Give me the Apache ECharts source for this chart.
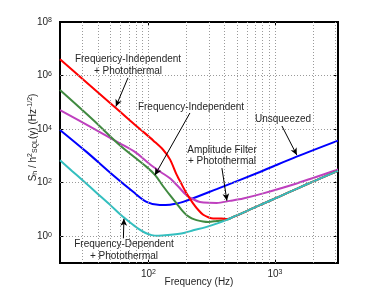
<!DOCTYPE html>
<html><head><meta charset="utf-8">
<script src="https://cdn.jsdelivr.net/npm/echarts@6/dist/echarts.min.js"></script>
<style>html,body{margin:0;padding:0;background:#fff}#c{width:374px;height:306px}</style>
</head><body><div id="c"></div>
<script>
// ---- data ----
const xRange = [20, 3150];
const yRange = [0.1, 1e8];
const xTickVals = [100, 1000];
const yTickVals = [1, 100, 1e4, 1e6, 1e8];
const gridFreqs = [30,40,50,60,70,80,90,100,200,300,400,500,600,700,800,900,1000,2000,3000];
const gridVals = [1, 100, 1e4, 1e6];

const freqBlue = [20, 32.4, 52.6, 75.7, 96.6, 123, 148, 188, 346, 760, 1483, 3150];
const valBlue  = [9333, 1413, 190.5, 45.7, 19.1, 14.5, 15.1, 19.1, 57.5, 251, 933, 3715];

const freqMag = [20, 36.6, 59.4, 80, 102.6, 125, 148, 172, 200, 230, 255, 300, 346, 440, 561, 807, 1483, 3150];
const valMag  = [51300, 10700, 2951, 1300, 490, 250, 145, 72, 33.9, 23, 19.1, 17.6, 17.4, 20.9, 25.7, 39.8, 93.3, 309];

const freqGreen = [20, 36.6, 59.4, 96.6, 113, 131, 148, 167, 185, 200, 220, 240, 270, 297, 346, 420, 468, 600, 760, 1094, 1500, 2000, 3150];
const valGreen  = [288000, 21900, 2512, 389, 191, 72, 34, 16.6, 9.0, 6.2, 4.6, 4.0, 3.55, 3.4, 3.7, 4.17, 5.25, 8.71, 14.5, 30.9, 60.3, 110, 275];

const freqRed = [20, 30, 50, 70, 91, 110, 131, 148, 167, 185, 200, 226, 250, 271, 300, 325, 379, 420, 468, 600, 760, 1094, 1500, 2000, 3150];
const valRed  = [4.07e6, 7.59e5, 9.33e4, 2.29e4, 7943, 3631, 1660, 741, 200, 79.4, 39.8, 16.6, 9.12, 6.31, 5.01, 4.57, 4.57, 4.37, 5.25, 8.71, 14.5, 30.9, 60.3, 110, 275];

const freqCyan = [20, 25, 30, 40, 50, 61, 70, 83, 95, 106, 120, 143, 170, 194, 226, 280, 346, 420, 468, 600, 760, 1094, 1500, 2000, 3150];
const valCyan  = [692, 269, 126, 37.2, 14.5, 6.03, 3.55, 1.93, 1.32, 1.10, 1.05, 1.10, 1.20, 1.35, 1.66, 2.14, 2.95, 4.17, 5.25, 8.71, 14.5, 30.9, 60.3, 110, 275];

// annotation arrows: [fromFreq, fromVal, toFreq, toVal]
const arrows = [
  [68.9, 8.2e5, 55.3, 7.0e4],
  [212.8, 4.0e4, 112.5, 191],
  [1135, 1.31e4, 1489, 1072],
  [381, 349, 417, 21.2],
  [63.4, 0.834, 64, 4.49]
];

const zip = (a, b) => a.map((v, i) => [v, b[i]]);
const FONT = '"Liberation Sans", Arial, Helvetica, sans-serif';
const TXT = '#262626';

function logLabel(v) {
  const e = Math.round(Math.log10(v));
  return '10{sup|' + e + '}';
}
const supRich = {
  sup: { fontSize: 7, verticalAlign: 'top', lineHeight: 8, fontFamily: FONT, color: TXT, padding: [0, 0, 6, 0] }
};

function axisBase(ticks) {
  return {
    type: 'log', logBase: 10,
    axisLine: { show: true, onZero: false, lineStyle: { color: '#000', width: 2 } },
    axisTick: { show: true, inside: true, length: 4, customValues: ticks, lineStyle: { color: '#000', width: 1 } },
    splitLine: { show: false },
    minorTick: { show: false },
    nameMoveOverlap: false
  };
}

const lineSeries = (name, f, v, color) => ({
  name, type: 'line', data: zip(f, v), showSymbol: false, smooth: 0.3,
  lineStyle: { color, width: 2 }, itemStyle: { color }, z: 3, silent: true
});

const txtStyle = (text, lh) => ({ text, font: '10px ' + FONT, fill: TXT, align: 'center', verticalAlign: 'middle', lineHeight: lh || 12 });

const option = {
  animation: false,
  backgroundColor: '#fff',
  grid: { left: 60, right: 36, top: 22, bottom: 43, show: true, borderColor: '#000', borderWidth: 2, backgroundColor: 'transparent' },
  xAxis: [
    Object.assign(axisBase(xTickVals), {
      min: xRange[0], max: xRange[1], position: 'bottom',
      axisLabel: { formatter: logLabel, customValues: xTickVals, fontSize: 10, color: TXT, fontFamily: FONT, margin: 6, rich: supRich },
      name: 'Frequency (Hz)', nameLocation: 'middle', nameGap: 14,
      nameTextStyle: { fontSize: 10, color: TXT, fontFamily: FONT, verticalAlign: 'top' }
    }),
    Object.assign(axisBase(xTickVals), {
      min: xRange[0], max: xRange[1], position: 'top',
      axisLabel: { show: false }
    })
  ],
  yAxis: [
    Object.assign(axisBase(yTickVals), {
      min: yRange[0], max: yRange[1], position: 'left',
      axisLabel: { formatter: logLabel, customValues: yTickVals, fontSize: 10, color: TXT, fontFamily: FONT, margin: 8, rich: supRich },
      name: 'S{sub|h} / h{sup|2}{sub|SQL}(γ) (Hz{sup|-1/2})', nameLocation: 'middle', nameRotate: 90, nameGap: 21,
      nameTextStyle: {
        fontSize: 10, color: TXT, fontFamily: FONT, padding: [0, 0, 0, 10],
        rich: {
          sub: { fontSize: 7, verticalAlign: 'bottom', fontFamily: FONT, color: TXT, padding: [5, 0, 0, 0] },
          sup: { fontSize: 7, verticalAlign: 'top', fontFamily: FONT, color: TXT, padding: [0, 0, 5, 0] }
        }
      }
    }),
    Object.assign(axisBase(yTickVals), {
      min: yRange[0], max: yRange[1], position: 'right',
      axisLabel: { show: false }
    })
  ],
  series: [
    {
      name: 'grid', type: 'line', data: [], z: 1, silent: true,
      markLine: {
        silent: true, symbol: ['none', 'none'], animation: false,
        label: { show: false },
        lineStyle: { color: '#9a9a9a', width: 1, type: [1, 2] },
        data: gridFreqs.map(f => ({ xAxis: f })).concat(gridVals.map(v => ({ yAxis: v })))
      }
    },
    lineSeries('Unsqueezed', freqBlue, valBlue, '#0000ff'),
    lineSeries('Amplitude Filter + Photothermal', freqMag, valMag, '#bf40bf'),
    lineSeries('Frequency-Independent', freqGreen, valGreen, '#408a40'),
    lineSeries('Frequency-Independent + Photothermal', freqRed, valRed, '#ff0000'),
    lineSeries('Frequency-Dependent + Photothermal', freqCyan, valCyan, '#33bfbf'),
    {
      name: 'arrows', type: 'line', data: [], z: 5, silent: true,
      markLine: {
        silent: true, symbol: ['none', 'arrow'], symbolSize: [5, 7], animation: false,
        label: { show: false },
        lineStyle: { color: '#000', width: 1, type: 'solid' },
        data: arrows.map(a => [{ coord: [a[0], a[1]] }, { coord: [a[2], a[3]] }])
      }
    }
  ],
  graphic: [
    { type: 'text', x: 128, y: 65, style: txtStyle('Frequency-Independent\n+ Photothermal', 12), z: 10 },
    { type: 'text', x: 191, y: 107, style: txtStyle('Frequency-Independent'), z: 10 },
    { type: 'text', x: 283, y: 119, style: txtStyle('Unsqueezed'), z: 10 },
    { type: 'text', x: 222, y: 156, style: txtStyle('Amplitude Filter\n+ Photothermal', 11), z: 10 },
    { type: 'text', x: 124, y: 250, style: txtStyle('Frequency-Dependent\n+ Photothermal', 12), z: 10 }
  ]
};
const chart = echarts.init(document.getElementById('c'), null, { renderer: 'canvas' });
chart.setOption(option);
</script>
</body></html>
